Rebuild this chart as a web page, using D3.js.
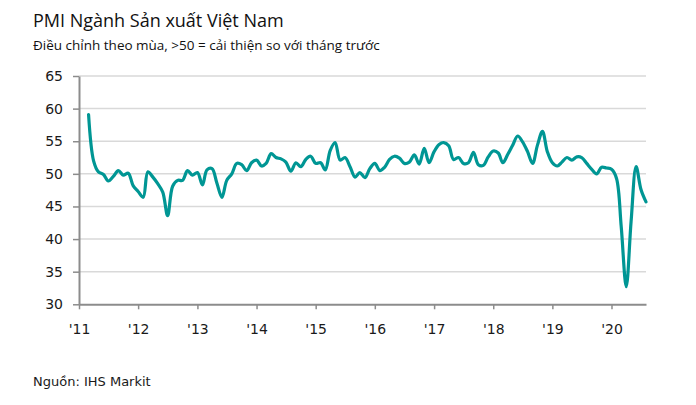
<!DOCTYPE html>
<html><head><meta charset="utf-8">
<script src="https://cdn.jsdelivr.net/npm/d3@7"></script>
<style>body{margin:0;background:#fff} svg{display:block}</style>
</head><body><svg id="c" width="696" height="405"></svg>
<script>
const titleText = "PMI Ngành Sản xuất Việt Nam";
const subtitleText = "Điều chỉnh theo mùa, >50 = cải thiện so với tháng trước";
const sourceText = "Nguồn:  IHS Markit";

const years = [2011, 2012, 2013, 2014, 2015, 2016, 2017, 2018, 2019, 2020];
const yearLabels = ["'11", "'12", "'13", "'14", "'15", "'16", "'17", "'18", "'19", "'20"];
const yTicks = [30, 35, 40, 45, 50, 55, 60, 65];

// Monthly PMI, series starts March 2011
const pmi2011 = [59.1, 52.0, 50.3, 49.9, 48.9, 49.6, 50.5, 49.8, 50.1, 48.2];
const pmi2012 = [47.3, 46.4, 50.3, 49.5, 48.5, 47.2, 43.6, 48.1, 49.0, 49.0, 50.5, 49.8];
const pmi2013 = [50.2, 48.3, 50.6, 50.8, 48.6, 46.4, 49.0, 50.0, 51.6, 51.4, 50.5, 51.7];
const pmi2014 = [52.1, 51.2, 51.6, 53.1, 52.5, 52.3, 51.8, 50.4, 51.7, 51.1, 52.2, 52.7];
const pmi2015 = [51.6, 51.7, 50.6, 53.6, 54.8, 52.1, 52.5, 51.1, 49.5, 50.2, 49.4, 50.8];
const pmi2016 = [51.6, 50.5, 51.0, 52.2, 52.7, 52.4, 51.6, 51.8, 52.9, 51.5, 53.9, 51.7];
const pmi2017 = [53.4, 54.5, 54.8, 54.3, 52.2, 52.5, 51.6, 51.7, 53.3, 51.4, 51.3, 52.6];
const pmi2018 = [53.5, 53.2, 51.7, 53.0, 54.4, 55.8, 54.9, 53.4, 51.6, 54.4, 56.5, 53.4];
const pmi2019 = [51.7, 51.2, 51.8, 52.5, 52.1, 52.6, 52.5, 51.6, 50.7, 50.0, 51.0, 50.9];
const pmi2020 = [50.7, 49.3, 41.9, 32.7, 42.7, 51.1, 47.6, 45.7];

const seriesStart = new Date(2011, 2, 1);
const values = [].concat(pmi2011, pmi2012, pmi2013, pmi2014, pmi2015, pmi2016, pmi2017, pmi2018, pmi2019, pmi2020);
const data = values.map((v, i) => ({date: d3.timeMonth.offset(seriesStart, i), value: v}));

const svg = d3.select("#c");
svg.append("rect").attr("width", 696).attr("height", 405).attr("fill", "#fff");

const plotLeft = 79, plotRight = 646, plotTop = 76, plotBottom = 304.3;
const x = d3.scaleTime().domain([new Date(2011, 0, 1), new Date(2020, 7, 1)]).range([plotLeft, plotRight]);
const y = d3.scaleLinear().domain([30, 65]).range([plotBottom, plotTop]);

const tickFont = "'DejaVu Sans', Verdana, sans-serif";
const titleFont = "'Open Sans', 'Noto Sans', sans-serif";

// Title
svg.append("text").attr("x", 33).attr("y", 27)
  .attr("font-family", titleFont).attr("font-size", 18).attr("fill", "#111")
  .text(titleText);
svg.append("text").attr("x", 33).attr("y", 50)
  .attr("font-family", titleFont).attr("font-size", 13.5).attr("fill", "#111")
  .text(subtitleText);

// Gridlines
svg.append("g").selectAll("line").data(yTicks.filter(t => t > 30)).join("line")
  .attr("x1", plotLeft).attr("x2", plotRight)
  .attr("y1", d => y(d)).attr("y2", d => y(d))
  .attr("stroke", "#d9d9d9").attr("stroke-width", 1.5);

// Y axis
const yAxis = svg.append("g").attr("transform", `translate(${plotLeft},0)`)
  .call(d3.axisLeft(y).tickValues(yTicks).tickSize(6).tickSizeOuter(0).tickPadding(10));
// X axis
const xAxis = svg.append("g").attr("transform", `translate(0,${plotBottom})`)
  .call(d3.axisBottom(x).tickValues(years.map(yr => new Date(yr, 0, 1)))
    .tickFormat((d, i) => yearLabels[i]).tickSize(5).tickSizeOuter(0).tickPadding(15));

[yAxis, xAxis].forEach(g => {
  g.select(".domain").attr("stroke", "#8c8c8c").attr("stroke-width", 2);
  g.selectAll(".tick line").attr("stroke", "#8c8c8c").attr("stroke-width", 1.5);
  g.selectAll(".tick text").attr("font-family", tickFont).attr("font-size", 14).attr("fill", "#1a1a1a");
});

// Line
const line = d3.line().x(d => x(d.date)).y(d => y(d.value)).curve(d3.curveCatmullRom.alpha(0.5));
svg.append("path").datum(data).attr("d", line)
  .attr("fill", "none").attr("stroke", "#009694").attr("stroke-width", 3.2)
  .attr("stroke-linejoin", "round").attr("stroke-linecap", "round");

// Source
svg.append("text").attr("x", 33).attr("y", 386)
  .attr("font-family", tickFont).attr("font-size", 13).attr("fill", "#1a1a1a")
  .text(sourceText);
</script>
</body></html>
